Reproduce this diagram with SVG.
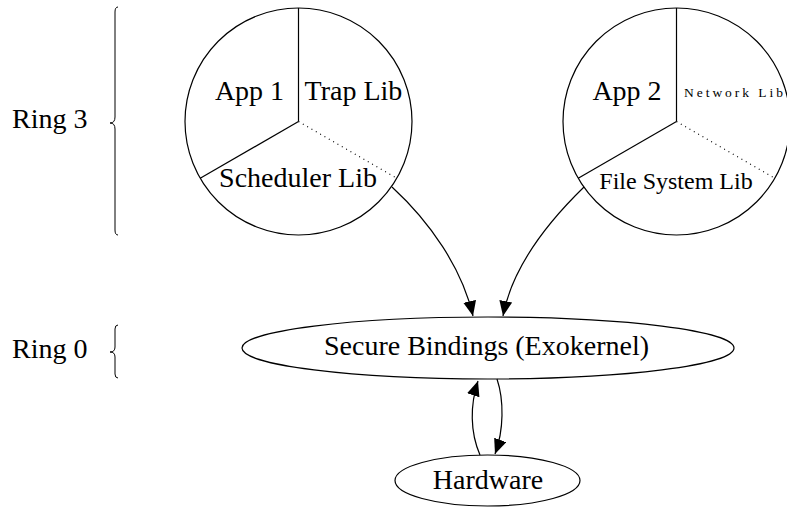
<svg xmlns="http://www.w3.org/2000/svg" width="787" height="508" viewBox="0 0 787 508">
<style>
text{font-family:"Liberation Serif","Times New Roman",serif;fill:#000;font-size:28px}
.mid{text-anchor:middle}
.shape{fill:#fff;stroke:#000;stroke-width:1.2}
.spoke{stroke:#000;stroke-width:1.2;fill:none}
.dot{stroke:#000;stroke-width:1.2;stroke-dasharray:1 4;fill:none}
.edge{stroke:#000;stroke-width:1.2;fill:none;marker-end:url(#arr)}
.brace{stroke:#000;stroke-width:1;fill:none}
</style>
<defs>
<marker id="arr" markerUnits="userSpaceOnUse" markerWidth="16" markerHeight="14" refX="15" refY="6.5" orient="auto">
<path d="M0,0 L15,6.5 L0,13 Z" fill="#000"/>
</marker>
</defs>
<rect width="787" height="508" fill="#fff"/>
<g id="ring3">
<text x="12" y="128">Ring 3</text>
<path class="brace" d="M118,7 Q115,7 115,12 L115,117 Q115,123 110,123 Q115,123 115,129 L115,230 Q115,235 118,235"/>
</g>
<g id="ring0">
<text x="12" y="358">Ring 0</text>
<path class="brace" d="M118,325 Q115,325 115,329 L115,347 Q115,352 110,352 Q115,352 115,357 L115,374 Q115,378 118,378"/>
</g>
<g id="app1">
<circle class="shape" cx="298.5" cy="121.5" r="113.5"/>
<line class="spoke" x1="298.5" y1="121.5" x2="298.5" y2="8"/>
<line class="spoke" x1="298.5" y1="121.5" x2="200.2" y2="178.25"/>
<line class="dot" x1="298.5" y1="121.5" x2="396.8" y2="178.25"/>
<text class="mid" x="249.5" y="100">App 1</text>
<text class="mid" x="353.5" y="100">Trap Lib</text>
<text class="mid" x="298" y="187">Scheduler Lib</text>
</g>
<g id="app2">
<circle class="shape" cx="676.5" cy="121.5" r="113.5"/>
<line class="spoke" x1="676.5" y1="121.5" x2="676.5" y2="8"/>
<line class="spoke" x1="676.5" y1="121.5" x2="578.2" y2="178.25"/>
<line class="dot" x1="676.5" y1="121.5" x2="774.8" y2="178.25"/>
<text class="mid" x="627" y="100">App 2</text>
<text x="684" y="97" style="font-size:13.5px" textLength="99">Network Lib</text>
<text class="mid" x="676" y="189" style="font-size:24px">File System Lib</text>
</g>
<g id="exokernel">
<ellipse class="shape" cx="488" cy="348" rx="246" ry="31"/>
<text class="mid" x="486.5" y="355">Secure Bindings (Exokernel)</text>
</g>
<g id="hardware">
<ellipse class="shape" cx="487.5" cy="480.5" rx="92.5" ry="25.5"/>
<text class="mid" x="488" y="489">Hardware</text>
</g>
<g id="connectors">
<path class="edge" d="M392,187 C430,222 462,268 473,316"/>
<path class="edge" d="M584,187 C548,222 512,268 503,316"/>
<path class="edge" d="M480,455 C470,432 470,405 478,381"/>
<path class="edge" d="M497,379 C504,400 504,430 495,454"/>
</g>
</svg>
